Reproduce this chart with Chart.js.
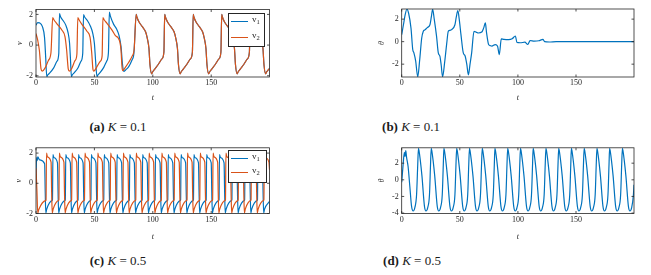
<!DOCTYPE html>
<html>
<head>
<meta charset="utf-8">
<script src="https://cdn.jsdelivr.net/npm/chart.js@4.4.1/dist/chart.umd.min.js"></script>
<style>
  body { margin: 0; background: #fff; }
  #page { position: relative; width: 651px; height: 275px; overflow: hidden; font-family: 'Liberation Serif', 'Times New Roman', serif; color: #262626; }
  .panel { position: absolute; }
  .legend { position: absolute; border: 1px solid #262626; background: #fff; box-sizing: border-box; }
  .swatch { position: absolute; width: 17px; height: 1px; }
  .lbl { position: absolute; font-size: 9px; line-height: 10px; white-space: nowrap; }
  .lbl sub { font-size: 6.5px; vertical-align: -2px; }
  .cap { position: absolute; width: 120px; text-align: center; font-size: 13px; line-height: 15px; color: #1a1a1a; white-space: nowrap; }
</style>
</head>
<body>
<div id="page">
  <div class="panel" style="left:0;top:0"><canvas id="chartA" width="290" height="105"></canvas></div>
  <div class="panel" style="left:360px;top:0"><canvas id="chartB" width="291" height="105"></canvas></div>
  <div class="panel" style="left:0;top:140px"><canvas id="chartC" width="290" height="105"></canvas></div>
  <div class="panel" style="left:360px;top:140px"><canvas id="chartD" width="291" height="105"></canvas></div>

  <!-- legends -->
  <div class="legend" style="left:228px;top:13px;width:37px;height:34px"></div>
  <div class="swatch" style="left:231px;top:21px;background:#0072bd"></div>
  <div class="lbl" style="left:252px;top:14px">v<sub>1</sub></div>
  <div class="swatch" style="left:231px;top:37px;background:#d95319"></div>
  <div class="lbl" style="left:252px;top:30px">v<sub>2</sub></div>

  <div class="legend" style="left:228px;top:150px;width:39px;height:33px"></div>
  <div class="swatch" style="left:231px;top:158px;background:#0072bd"></div>
  <div class="lbl" style="left:252px;top:151px">v<sub>1</sub></div>
  <div class="swatch" style="left:231px;top:172px;background:#d95319"></div>
  <div class="lbl" style="left:252px;top:165px">v<sub>2</sub></div>

  <!-- captions -->
  <div class="cap" style="left:58px;top:118.5px"><b>(a)</b> <i>K</i> = 0.1</div>
  <div class="cap" style="left:351px;top:118.5px"><b>(b)</b> <i>K</i> = 0.1</div>
  <div class="cap" style="left:58px;top:253px"><b>(c)</b> <i>K</i> = 0.5</div>
  <div class="cap" style="left:352px;top:253px"><b>(d)</b> <i>K</i> = 0.5</div>
</div>

<script>
// Axis ticks
const xTicks = [0, 50, 100, 150];
const tMax = 199.9;
const vTicks = [-2, 0, 2];
const thetaTicksB = [-2, 0, 2];
const thetaTicksD = [-4, -2, 0, 2];

// K = 0.1 : v1 / v2 before they lock together
const v1PreK01 = [
  [0,1.3],[1.5,1.47],[3,1.45],[5.5,1.2],[7.3,0.5],[8.3,-0.8],[9.2,-2.05],[10,-1.95],[12,-1.8],[15,-1.5],[18,-1.05],[19.5,-0.55],
  [20.1,2.05],[21,1.85],[23,1.62],[25.5,1.3],[27.5,0.8],[28.7,0.15],[29.5,-0.9],[30.3,-2.05],[31,-1.95],[33,-1.78],[36,-1.48],[38.5,-1.05],[40,-0.55],
  [40.7,1.98],[41.5,1.85],[44,1.6],[46.5,1.25],[48.5,0.8],[50,0.1],[51,-1.0],[52.2,-2.05],[53,-1.95],[55,-1.78],[58,-1.45],[60.5,-1.05],[62,-0.5],
  [62.8,2.15],[63.6,1.9],[66.5,1.35],[69,1.05],[71,0.65],[72.8,-0.1],[74,-1.2],[75.1,-1.72],[77,-1.6],[79.4,-1.4],[82,-1.0],[83.8,-0.55]
];
const v2PreK01 = [
  [0,0.75],[1.5,0.3],[2.9,-0.35],[4.3,-1.55],[5.3,-1.7],[7.7,-1.5],[10.6,-1.0],[12.8,-0.5],
  [14.3,1.8],[15.3,1.65],[17.8,1.4],[22.1,0.98],[24.8,0.55],[26.2,-0.3],[27.6,-1.55],[28.6,-1.7],[30.7,-1.5],[33.5,-1.0],[35,-0.6],
  [35.8,1.8],[36.8,1.65],[39.3,1.35],[43.6,0.9],[46.3,0.5],[47.7,-0.5],[48.8,-1.6],[49.5,-1.7],[52.2,-1.4],[55.1,-1.05],[56.6,-0.7],
  [57.3,1.8],[58.3,1.65],[60.8,1.42],[65.1,0.98],[68,0.62],[70.5,0.45],[71.8,0.2],[72.8,-0.35],[73.6,-1.4],[74.2,-1.67],[76.5,-1.45],[79.4,-1.12],[82.3,-0.72],[84,-0.3]
];
// K = 0.1 : synchronised part (v1 = v2)
const syncK01 = [
  [85.8,2.0],[86.3,1.85],[88.1,1.52],[91,1.2],[93.8,0.87],[95.3,0.44],[96.7,-0.22],[97.6,-1.3],[99,-1.87],[99.8,-1.75],[101.8,-1.55],[104.8,-1.25],[107.8,-0.9],[109.5,-0.45],
  [110.2,2.0],[110.7,1.85],[112.5,1.52],[115.4,1.2],[118.2,0.87],[119.7,0.44],[121.1,-0.22],[122,-1.3],[123.4,-1.87],[124.2,-1.75],[126.2,-1.55],[129.2,-1.25],[132.2,-0.9],[133.9,-0.45],
  [134.6,2.0],[135.1,1.85],[136.9,1.52],[139.8,1.2],[142.6,0.87],[144.1,0.44],[145.5,-0.22],[146.4,-1.3],[147.8,-1.87],[148.6,-1.75],[150.6,-1.55],[153.6,-1.25],[156.6,-0.9],[158.3,-0.45],
  [159,2.0],[159.5,1.85],[161.3,1.52],[164.2,1.2],[167,0.87],[168.5,0.44],[169.9,-0.22],[170.8,-1.3],[172.2,-1.87],[173,-1.75],[175,-1.55],[178,-1.25],[181,-0.9],[182.7,-0.45],
  [183.4,2.0],[183.9,1.85],[185.7,1.52],[188.6,1.2],[191.4,0.87],[192.9,0.44],[194.3,-0.22],[195.2,-1.3],[196.6,-1.87],[197.4,-1.75],[199,-1.6],[199.9,-1.52]
];
// K = 0.1 : theta
const thetaK01 = [
  [0,0.62],[1.5,1.5],[3,2.4],[4.5,2.88],[6,2.5],[8,1.2],[9.5,-0.7],[10.5,-1.0],[12,-1.7],[13.8,-3.12],[15.5,-1.6],[17.2,0.3],
  [18.6,0.92],[20,1.05],[22,1.25],[24.3,1.5],[25.5,2.2],[26.6,2.88],[28,2.0],[30,0.47],[31.5,-1.0],[32.9,-1.3],[34,-2.1],[35.2,-3.12],
  [37,-1.8],[38.7,-0.2],[40.1,0.92],[41.5,1.0],[43,1.07],[45.8,1.5],[47,2.2],[48.3,2.75],[49.5,2.0],[51,0.62],[53,-1.0],[54.5,-1.25],
  [56,-2.0],[57.4,-2.95],[58.8,-2.0],[60.2,-1.0],[62.2,0.92],[64,0.85],[66,0.77],[68.9,0.85],[70.5,1.2],[72,1.66],[73,0.8],[74.8,-0.26],
  [76,-0.35],[77.6,-0.4],[80.5,-0.26],[82.5,-0.4],[84,-1.15],[85.7,0.24],[88,0.2],[92,0.18],[95,0.25],[97.8,0.5],[99.2,-0.07],[102,-0.1],
  [106,-0.05],[108.5,-0.25],[110.5,0.1],[114,0.05],[118,0.08],[121.5,0.2],[123,0.0],[127,-0.03],[133,0.0],[140,0.0],[160,0.0],[199.9,0.0]
];

// K = 0.5 : v1 (blue)
const v1K05 = [
  [0,0.4],[0.5,1.7],[1.0,1.5],[1.6,1.75],[3,1.55],[7.4,1.3],[7.9,-0.6],[8.4,-1.97],[9.2,-1.7],[13.7,-1.15],
  [14.1,-1.1],[14.5,1.9],[15.3,1.7],[18.4,1.35],[18.9,-0.6],[19.4,-1.97],[20.2,-1.7],[24.7,-1.15],
  [25.1,-1.1],[25.5,1.9],[26.3,1.7],[29.4,1.35],[29.9,-0.6],[30.4,-1.97],[31.2,-1.7],[35.7,-1.15],
  [36.0,-1.1],[36.4,1.9],[37.2,1.7],[40.3,1.35],[40.8,-0.6],[41.3,-1.97],[42.1,-1.7],[46.6,-1.15],
  [47.0,-1.1],[47.4,1.9],[48.2,1.7],[51.3,1.35],[51.8,-0.6],[52.3,-1.97],[53.1,-1.7],[57.6,-1.15],
  [58.0,-1.1],[58.4,1.9],[59.2,1.7],[62.3,1.35],[62.8,-0.6],[63.3,-1.97],[64.1,-1.7],[68.6,-1.15],
  [69.0,-1.1],[69.4,1.9],[70.2,1.7],[73.3,1.35],[73.8,-0.6],[74.3,-1.97],[75.1,-1.7],[79.6,-1.15],
  [79.9,-1.1],[80.3,1.9],[81.1,1.7],[84.2,1.35],[84.7,-0.6],[85.2,-1.97],[86.0,-1.7],[90.5,-1.15],
  [90.9,-1.1],[91.3,1.9],[92.1,1.7],[95.2,1.35],[95.7,-0.6],[96.2,-1.97],[97.0,-1.7],[101.5,-1.15],
  [101.9,-1.1],[102.3,1.9],[103.1,1.7],[106.2,1.35],[106.7,-0.6],[107.2,-1.97],[108.0,-1.7],[112.5,-1.15],
  [112.8,-1.1],[113.2,1.9],[114.0,1.7],[117.1,1.35],[117.6,-0.6],[118.1,-1.97],[118.9,-1.7],[123.4,-1.15],
  [123.8,-1.1],[124.2,1.9],[125.0,1.7],[128.1,1.35],[128.6,-0.6],[129.1,-1.97],[129.9,-1.7],[134.4,-1.15],
  [134.8,-1.1],[135.2,1.9],[136.0,1.7],[139.1,1.35],[139.6,-0.6],[140.1,-1.97],[140.9,-1.7],[145.4,-1.15],
  [145.7,-1.1],[146.1,1.9],[146.9,1.7],[150.0,1.35],[150.5,-0.6],[151.0,-1.97],[151.8,-1.7],[156.3,-1.15],
  [156.7,-1.1],[157.1,1.9],[157.9,1.7],[161.0,1.35],[161.5,-0.6],[162.0,-1.97],[162.8,-1.7],[167.3,-1.15],
  [167.7,-1.1],[168.1,1.9],[168.9,1.7],[172.0,1.35],[172.5,-0.6],[173.0,-1.97],[173.8,-1.7],[178.3,-1.15],
  [178.6,-1.1],[179.0,1.9],[179.8,1.7],[182.9,1.35],[183.4,-0.6],[183.9,-1.97],[184.7,-1.7],[189.2,-1.15],
  [189.6,-1.1],[190.0,1.9],[190.8,1.7],[193.9,1.35],[194.4,-0.6],[194.9,-1.97],[195.7,-1.7],[199.9,-1.2]
];
// K = 0.5 : v2 (red)
const v2K05 = [
  [0,1.0],[0.8,-0.5],[1.5,-1.97],[2.3,-1.75],[8.2,-1.15],
  [8.6,-1.1],[9.0,2.0],[9.8,1.75],[12.9,1.4],[13.4,-0.6],[13.9,-1.97],[14.7,-1.7],[19.2,-1.15],
  [19.6,-1.1],[20.0,2.0],[20.8,1.75],[23.9,1.4],[24.4,-0.6],[24.9,-1.97],[25.7,-1.7],[30.2,-1.15],
  [30.5,-1.1],[30.9,2.0],[31.7,1.75],[34.8,1.4],[35.3,-0.6],[35.8,-1.97],[36.6,-1.7],[41.1,-1.15],
  [41.5,-1.1],[41.9,2.0],[42.7,1.75],[45.8,1.4],[46.3,-0.6],[46.8,-1.97],[47.6,-1.7],[52.1,-1.15],
  [52.5,-1.1],[52.9,2.0],[53.7,1.75],[56.8,1.4],[57.3,-0.6],[57.8,-1.97],[58.6,-1.7],[63.1,-1.15],
  [63.5,-1.1],[63.9,2.0],[64.7,1.75],[67.8,1.4],[68.3,-0.6],[68.8,-1.97],[69.6,-1.7],[74.1,-1.15],
  [74.4,-1.1],[74.8,2.0],[75.6,1.75],[78.7,1.4],[79.2,-0.6],[79.7,-1.97],[80.5,-1.7],[85.0,-1.15],
  [85.4,-1.1],[85.8,2.0],[86.6,1.75],[89.7,1.4],[90.2,-0.6],[90.7,-1.97],[91.5,-1.7],[96.0,-1.15],
  [96.4,-1.1],[96.8,2.0],[97.6,1.75],[100.7,1.4],[101.2,-0.6],[101.7,-1.97],[102.5,-1.7],[107.0,-1.15],
  [107.3,-1.1],[107.7,2.0],[108.5,1.75],[111.6,1.4],[112.1,-0.6],[112.6,-1.97],[113.4,-1.7],[117.9,-1.15],
  [118.3,-1.1],[118.7,2.0],[119.5,1.75],[122.6,1.4],[123.1,-0.6],[123.6,-1.97],[124.4,-1.7],[128.9,-1.15],
  [129.3,-1.1],[129.7,2.0],[130.5,1.75],[133.6,1.4],[134.1,-0.6],[134.6,-1.97],[135.4,-1.7],[139.9,-1.15],
  [140.2,-1.1],[140.6,2.0],[141.4,1.75],[144.5,1.4],[145.0,-0.6],[145.5,-1.97],[146.3,-1.7],[150.8,-1.15],
  [151.2,-1.1],[151.6,2.0],[152.4,1.75],[155.5,1.4],[156.0,-0.6],[156.5,-1.97],[157.3,-1.7],[161.8,-1.15],
  [162.2,-1.1],[162.6,2.0],[163.4,1.75],[166.5,1.4],[167.0,-0.6],[167.5,-1.97],[168.3,-1.7],[172.8,-1.15],
  [173.1,-1.1],[173.5,2.0],[174.3,1.75],[177.4,1.4],[177.9,-0.6],[178.4,-1.97],[179.2,-1.7],[183.7,-1.15],
  [184.1,-1.1],[184.5,2.0],[185.3,1.75],[188.4,1.4],[188.9,-0.6],[189.4,-1.97],[190.2,-1.7],[194.7,-1.15],
  [195.1,-1.1],[195.5,2.0],[196.3,1.75],[199.4,1.4],[199.9,0.9]
];
// K = 0.5 : theta
const thetaK05 = [
  [0,-0.3],[1.2,1.8],[2.3,3.3],[2.9,2.8],[3.5,3.5],[4.2,2.7],[5.5,1.6],[7,-0.8],[8.5,-3.2],[9.9,-3.75],[11.3,-3.35],[12.8,-1.8],[13.8,1.8],
  [14.4,3.78],[14.9,3.5],[17.4,0.5],[19.6,-3.2],[20.9,-3.75],[22.4,-3.35],[23.9,-1.8],[24.8,1.8],
  [25.4,3.78],[25.9,3.5],[28.4,0.5],[30.6,-3.2],[31.9,-3.75],[33.4,-3.35],[34.9,-1.8],[35.8,1.8],
  [36.3,3.78],[36.8,3.5],[39.3,0.5],[41.5,-3.2],[42.8,-3.75],[44.3,-3.35],[45.8,-1.8],[46.7,1.8],
  [47.3,3.78],[47.8,3.5],[50.3,0.5],[52.5,-3.2],[53.8,-3.75],[55.3,-3.35],[56.8,-1.8],[57.7,1.8],
  [58.3,3.78],[58.8,3.5],[61.3,0.5],[63.5,-3.2],[64.8,-3.75],[66.3,-3.35],[67.8,-1.8],[68.7,1.8],
  [69.3,3.78],[69.8,3.5],[72.3,0.5],[74.5,-3.2],[75.8,-3.75],[77.3,-3.35],[78.8,-1.8],[79.7,1.8],
  [80.2,3.78],[80.7,3.5],[83.2,0.5],[85.4,-3.2],[86.7,-3.75],[88.2,-3.35],[89.7,-1.8],[90.6,1.8],
  [91.2,3.78],[91.7,3.5],[94.2,0.5],[96.4,-3.2],[97.7,-3.75],[99.2,-3.35],[100.7,-1.8],[101.6,1.8],
  [102.2,3.78],[102.7,3.5],[105.2,0.5],[107.4,-3.2],[108.7,-3.75],[110.2,-3.35],[111.7,-1.8],[112.6,1.8],
  [113.1,3.78],[113.6,3.5],[116.1,0.5],[118.3,-3.2],[119.6,-3.75],[121.1,-3.35],[122.6,-1.8],[123.5,1.8],
  [124.1,3.78],[124.6,3.5],[127.1,0.5],[129.3,-3.2],[130.6,-3.75],[132.1,-3.35],[133.6,-1.8],[134.5,1.8],
  [135.1,3.78],[135.6,3.5],[138.1,0.5],[140.3,-3.2],[141.6,-3.75],[143.1,-3.35],[144.6,-1.8],[145.5,1.8],
  [146.0,3.78],[146.5,3.5],[149.0,0.5],[151.2,-3.2],[152.5,-3.75],[154.0,-3.35],[155.5,-1.8],[156.4,1.8],
  [157.0,3.78],[157.5,3.5],[160.0,0.5],[162.2,-3.2],[163.5,-3.75],[165.0,-3.35],[166.5,-1.8],[167.4,1.8],
  [168.0,3.78],[168.5,3.5],[171.0,0.5],[173.2,-3.2],[174.5,-3.75],[176.0,-3.35],[177.5,-1.8],[178.4,1.8],
  [178.9,3.78],[179.4,3.5],[181.9,0.5],[184.1,-3.2],[185.4,-3.75],[186.9,-3.35],[188.4,-1.8],[189.3,1.8],
  [189.9,3.78],[190.4,3.5],[192.9,0.5],[195.1,-3.2],[196.4,-3.75],[197.9,-3.35],[199.4,-1.8],[199.9,-0.6]
];

const BLUE = '#0072bd';
const RED = '#d95319';
const INK = '#262626';

Chart.defaults.font.family = "'Liberation Serif', 'Times New Roman', serif";
Chart.defaults.color = INK;

// Box round the plot area with inward ticks on all four sides
const boxPlugin = {
  id: 'matlabBox',
  afterDatasetsDraw(chart) {
    const { ctx, chartArea: a, scales: { x, y } } = chart;
    const tl = 2.5;
    ctx.save();
    ctx.strokeStyle = INK;
    ctx.lineWidth = 0.8;
    ctx.strokeRect(a.left, a.top, a.right - a.left, a.bottom - a.top);
    ctx.beginPath();
    x.ticks.forEach(t => {
      const px = x.getPixelForValue(t.value);
      ctx.moveTo(px, a.bottom); ctx.lineTo(px, a.bottom - tl);
      ctx.moveTo(px, a.top); ctx.lineTo(px, a.top + tl);
    });
    y.ticks.forEach(t => {
      const py = y.getPixelForValue(t.value);
      ctx.moveTo(a.left, py); ctx.lineTo(a.left + tl, py);
      ctx.moveTo(a.right, py); ctx.lineTo(a.right - tl, py);
    });
    ctx.stroke();
    ctx.restore();
  }
};

function makePanel(id, cfg) {
  return new Chart(document.getElementById(id), {
    type: 'line',
    data: {
      datasets: cfg.series.map(s => ({
        data: s.points.map(([x, y]) => ({ x, y })),
        borderColor: s.color,
        borderWidth: 1.2,
        pointRadius: 0,
        cubicInterpolationMode: 'monotone',
        order: s.order,
        clip: 0
      }))
    },
    options: {
      responsive: false,
      animation: false,
      events: [],
      layout: { padding: cfg.pad },
      plugins: { legend: { display: false }, tooltip: { enabled: false } },
      scales: {
        x: {
          type: 'linear', min: 0, max: tMax,
          grid: { display: false, drawTicks: false },
          border: { display: false },
          afterBuildTicks: s => { s.ticks = xTicks.map(value => ({ value })); },
          afterFit: s => { s.height = cfg.xHeight; },
          ticks: { autoSkip: false, maxRotation: 0, padding: 1.5, color: INK, font: { size: 8 } },
          title: { display: true, text: 't', color: INK, font: { size: 8, style: 'italic' }, padding: { top: 0, bottom: cfg.tPad } }
        },
        y: {
          type: 'linear', min: cfg.yMin, max: cfg.yMax,
          grid: { display: false, drawTicks: false },
          border: { display: false },
          afterBuildTicks: s => { s.ticks = cfg.yTicks.map(value => ({ value })); },
          afterFit: s => { s.width = cfg.yWidth; },
          ticks: { autoSkip: false, padding: 3, color: INK, font: { size: 8 } },
          title: { display: true, text: cfg.yTitle, color: INK, font: { size: 8, style: 'italic' }, padding: { top: cfg.yTitlePad, bottom: 0 } }
        }
      }
    },
    plugins: [boxPlugin]
  });
}

// (a) K = 0.1, membrane potentials
makePanel('chartA', {
  series: [
    { points: v1PreK01.concat(syncK01), color: BLUE, order: 1 },
    { points: v2PreK01.concat(syncK01), color: RED, order: 0 }
  ],
  pad: { left: 0, top: 9.5, right: 20.5, bottom: 0 },
  xHeight: 28, yWidth: 36, tPad: 2.5,
  yMin: -2.08, yMax: 2.32, yTicks: vTicks, yTitle: 'v', yTitlePad: 15
});

// (b) K = 0.1, theta
makePanel('chartB', {
  series: [{ points: thetaK01, color: BLUE, order: 0 }],
  pad: { left: 0, top: 9, right: 17, bottom: 0 },
  xHeight: 28, yWidth: 41.7, tPad: 2.5,
  yMin: -3.14, yMax: 2.9, yTicks: thetaTicksB, yTitle: 'θ', yTitlePad: 17
});

// (c) K = 0.5, membrane potentials
makePanel('chartC', {
  series: [
    { points: v1K05, color: BLUE, order: 1 },
    { points: v2K05, color: RED, order: 0 }
  ],
  pad: { left: 0, top: 7, right: 20.5, bottom: 0 },
  xHeight: 31.5, yWidth: 36, tPad: 3.5,
  yMin: -2.0, yMax: 2.35, yTicks: vTicks, yTitle: 'v', yTitlePad: 14.5
});

// (d) K = 0.5, theta
makePanel('chartD', {
  series: [{ points: thetaK05, color: BLUE, order: 0 }],
  pad: { left: 0, top: 7, right: 17, bottom: 0 },
  xHeight: 31.5, yWidth: 41.7, tPad: 3.5,
  yMin: -4.05, yMax: 3.85, yTicks: thetaTicksD, yTitle: 'θ', yTitlePad: 17
});
</script>
</body>
</html>
